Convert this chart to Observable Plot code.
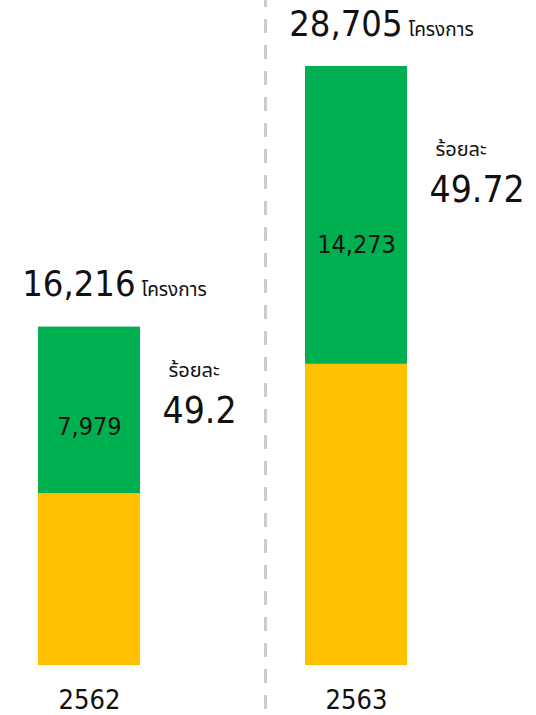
<!DOCTYPE html>
<html>
<head>
<meta charset="utf-8">
<script src="https://cdn.jsdelivr.net/npm/d3@7"></script>
<script src="https://cdn.jsdelivr.net/npm/@observablehq/plot@0.6"></script>
<style>
  html, body { margin: 0; padding: 0; background: #fff; }
</style>
</head>
<body>
<div id="chart"></div>
<script>
const years = ["2562", "2563"];
const totals = [16216, 28705];
const greenValues = [7979, 14273];
const percents = ["49.2", "49.72"];
const unitLabel = "โครงการ";
const percentWord = "ร้อยละ";

const segments = [];
years.forEach((y, i) => {
  segments.push({year: y, part: "rest", value: totals[i] - greenValues[i]});
  segments.push({year: y, part: "green", value: greenValues[i]});
});
const rows = years.map((y, i) => ({
  year: y,
  total: totals[i],
  green: greenValues[i],
  pct: percents[i],
  totalLabel: d3.format(",")(totals[i]),
  greenLabel: d3.format(",")(greenValues[i])
}));

const FONT = "'DejaVu Sans Condensed', 'Noto Sans Thai', 'Noto Sans', sans-serif";
const THAI = "'Noto Sans Thai', 'Noto Sans', sans-serif";

const chart = Plot.plot({
  width: 536,
  height: 715,
  margin: 0,
  style: {fontFamily: FONT, background: "#fff"},
  x: {type: "band", domain: years, range: [37, 407], paddingInner: 0.619, paddingOuter: 0, axis: null},
  y: {domain: [0, d3.max(totals)], range: [665, 66], axis: null},
  color: {domain: ["rest", "green"], range: ["#FFC000", "#00AF50"]},
  marks: [
    Plot.ruleX([years[1]], {dx: -91, stroke: "#cccccc", strokeWidth: 3, strokeDasharray: "14,12", strokeDashoffset: 7}),
    Plot.barY(segments, {x: "year", y: "value", fill: "part", inset: 0}),
    // totals above bars
    Plot.text(rows, {x: "year", y: "total", text: "totalLabel", textAnchor: "end", dx: 46, dy: -31, fontSize: 36, fill: "#111", lineAnchor: "bottom", fontFamily: FONT}),
    Plot.text(rows, {x: "year", y: "total", text: () => unitLabel, textAnchor: "start", dx: 52, dy: -31, fontSize: 19, fill: "#111", lineAnchor: "bottom", fontFamily: THAI}),
    // green values inside bars
    Plot.text(rows, {x: "year", y: d => d.total - d.green * 0.6, text: "greenLabel", fontSize: 25, fill: "#111", fontFamily: FONT}),
    // percent word and value
    Plot.text(rows, {x: "year", y: d => d.total - d.green * 0.3, text: () => percentWord, textAnchor: "start", dx: 79, fontSize: 20, fill: "#111", lineAnchor: "bottom", fontFamily: THAI}),
    Plot.text(rows, {x: "year", y: d => d.total - d.green * 0.3, text: "pct", textAnchor: "start", dx: 73, dy: 46, fontSize: 37, fill: "#111", lineAnchor: "bottom", fontFamily: FONT}),
    // year labels
    Plot.text(rows, {x: "year", y: 0, text: "year", dy: 43, fontSize: 27, fill: "#111", lineAnchor: "bottom", fontFamily: FONT})
  ]
});
document.getElementById("chart").appendChild(chart);
</script>
</body>
</html>
